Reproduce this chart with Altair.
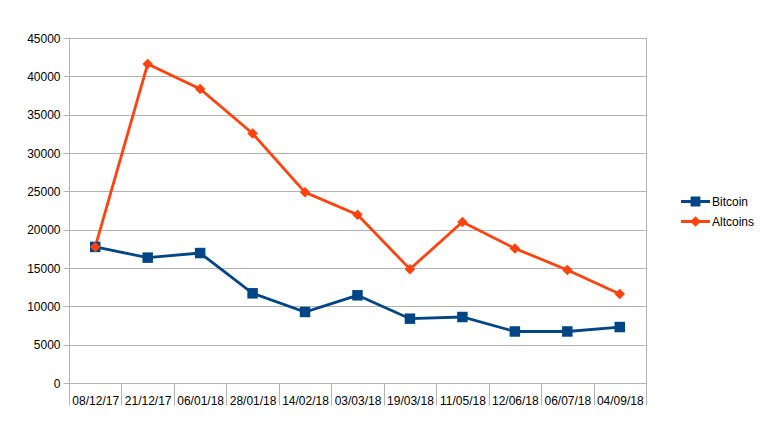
import altair as alt
import pandas as pd

dates = ["08/12/17", "21/12/17", "06/01/18", "28/01/18", "14/02/18", "03/03/18",
         "19/03/18", "11/05/18", "12/06/18", "06/07/18", "04/09/18"]
bitcoin = [17750, 16350, 16950, 11700, 9260, 11440, 8390, 8610, 6720, 6720, 7300]
altcoins = [17750, 41600, 38350, 32550, 24870, 21950, 14850, 21000, 17550, 14750, 11600]
series = ["Bitcoin", "Altcoins"]
colors = ["#004586", "#ff420e"]
shapes = ["square", "diamond"]
y_ticks = list(range(0, 45001, 5000))

rows = []
for d, b, a in zip(dates, bitcoin, altcoins):
    rows.append({"date": d, "series": "Bitcoin", "value": b})
    rows.append({"date": d, "series": "Altcoins", "value": a})
df = pd.DataFrame(rows)

FONT = "Liberation Sans"
GRID = "#b3b3b3"

x_enc = alt.X("date:N", sort=dates, title=None,
              scale=alt.Scale(type="band", paddingInner=0, paddingOuter=0),
              axis=alt.Axis(labelAngle=0, grid=False, tickBand="extent", tickSize=22,
                            tickColor=GRID, domainColor=GRID, labelPadding=-10,
                            labelOverlap=False, labelFontSize=12, labelFont=FONT,
                            labelColor="#000000"))
y_enc = alt.Y("value:Q", title=None,
              scale=alt.Scale(domain=[0, 45000], nice=False),
              axis=alt.Axis(values=y_ticks, format="d", grid=True, gridColor=GRID,
                            tickColor=GRID, domainColor=GRID, tickSize=6, labelPadding=3,
                            labelFontSize=12, labelFont=FONT, labelColor="#000000"))

base = alt.Chart(df)

layers = []
for s, c in zip(series, colors):
    sub = base.transform_filter(alt.datum.series == s)
    layers.append(sub.mark_line(strokeWidth=2.8, color=c).encode(x=x_enc, y=y_enc))
for s, c, sh in zip(series, colors, shapes):
    sub = base.transform_filter(alt.datum.series == s)
    layers.append(sub.mark_point(filled=True, shape=sh, size=110, opacity=1, color=c)
                  .encode(x=x_enc, y=y_enc))

sq_path = "M-1.81,0H1.81M-0.44,-0.44H0.44V0.44H-0.44Z"
dm_path = "M-1.81,0H1.81M0,-0.42L0.42,0L0,0.42L-0.42,0Z"

leg = alt.Legend(title=None, orient="none", legendX=617, legendY=154,
                 symbolSize=256, symbolStrokeWidth=2.8, symbolOpacity=1,
                 labelFont=FONT, labelFontSize=12, labelColor="#000000",
                 labelOffset=7, rowPadding=1)

legend_layer = base.mark_point(filled=True, opacity=0, strokeWidth=2.8).encode(
    x=x_enc, y=y_enc,
    fill=alt.Fill("series:N", scale=alt.Scale(domain=series, range=colors), legend=leg),
    stroke=alt.Stroke("series:N", scale=alt.Scale(domain=series, range=colors), legend=leg),
    shape=alt.Shape("series:N", scale=alt.Scale(domain=series, range=[sq_path, dm_path]), legend=leg),
)
layers.append(legend_layer)

chart = alt.layer(*layers).properties(
    width=577, height=345,
    autosize=alt.AutoSizeParams(type="none"),
    padding={"left": 61, "top": 30, "right": 109, "bottom": 30},
).configure_view(stroke=GRID, strokeWidth=1)

chart.save("out.html", embed_options={"renderer": "svg", "actions": False})
